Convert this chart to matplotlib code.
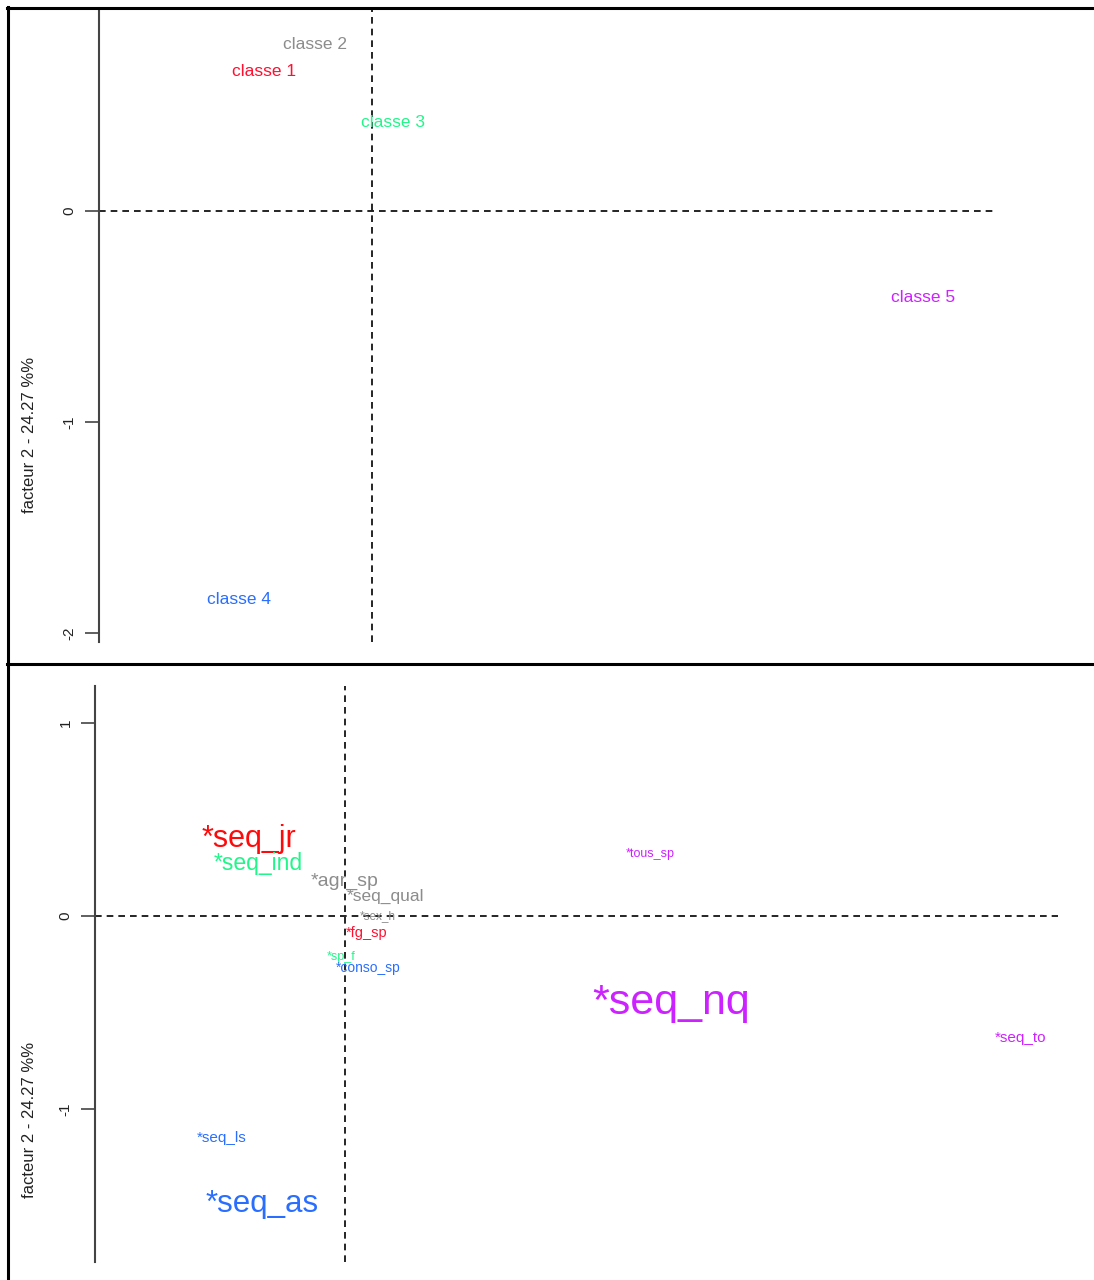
import matplotlib
matplotlib.use("Agg")
import matplotlib.pyplot as plt
from matplotlib.lines import Line2D

plt.rcParams['font.family'] = ['Liberation Sans', 'DejaVu Sans']

# ---- data: top panel (classes) ----
class_labels = ["classe 1", "classe 2", "classe 3", "classe 4", "classe 5"]
class_x = [-0.51, -0.27, 0.10, -0.63, 2.61]
class_y = [0.66, 0.79, 0.42, -1.84, -0.41]
class_colors = ["#FF1030", "#8C8C8C", "#22F58A", "#2A6EFF", "#CC22FF"]

# ---- data: bottom panel (modalities) ----
var_labels = ["*seq_jr", "*seq_ind", "*agr_sp", "*seq_qual", "*sex_h", "*fg_sp",
              "*sp_f", "*conso_sp", "*tous_sp", "*seq_nq", "*seq_to", "*seq_ls", "*seq_as"]
var_x = [-0.50, -0.45, 0.00, 0.21, 0.17, 0.11, -0.02, 0.12, 1.58, 1.69, 3.50, -0.64, -0.43]
var_y = [0.40, 0.27, 0.18, 0.10, 0.00, -0.09, -0.21, -0.27, 0.32, -0.45, -0.63, -1.15, -1.49]
var_colors = ["#FF0A0A", "#22F58A", "#8C8C8C", "#8C8C8C", "#8C8C8C", "#FF1030",
              "#22F58A", "#2A6EFF", "#CC22FF", "#CC22FF", "#CC22FF", "#2A6EFF", "#2A6EFF"]
var_sizes = [22, 16.5, 14, 12.5, 8.5, 10.5, 9, 10, 9, 31, 11, 11, 22.5]

y_title = "facteur 2 - 24.27 %%"

W, H = 1094, 1280
fig = plt.figure(figsize=(W / 100, H / 100), dpi=100)


def add_panel(left_px, right_px, top_px, bot_px, zero_x_px, zero_y_px, unit_px, yticks):
    ax = fig.add_axes([left_px / W, 1 - bot_px / H, (right_px - left_px) / W, (bot_px - top_px) / H])
    ax.set_xlim((left_px - zero_x_px) / unit_px, (right_px - zero_x_px) / unit_px)
    ax.set_ylim(-(bot_px - zero_y_px) / unit_px, (zero_y_px - top_px) / unit_px)
    for s in ["top", "right", "bottom"]:
        ax.spines[s].set_visible(False)
    ax.spines["left"].set_color("#444444")
    ax.spines["left"].set_linewidth(1.5)
    ax.set_xticks([])
    ax.set_yticks(yticks)
    ax.set_yticklabels([str(t) for t in yticks], rotation=90, va="center", fontsize=11, color="#222222")
    ax.tick_params(axis="y", length=10, width=1.2, color="#444444", pad=6)
    ax.axhline(0, color="black", ls=(0, (4, 3)), lw=1.2, clip_on=False)
    ax.axvline(0, color="black", ls=(0, (4, 3)), lw=1.2)
    ax.patch.set_alpha(0)
    return ax


# top panel
ax1 = add_panel(99, 995, 10, 642, 372, 211, 211, [0, -1, -2])
for lab, x, y, c in zip(class_labels, class_x, class_y, class_colors):
    ax1.text(x, y, lab, color=c, fontsize=12.5, ha="center", va="center")

# bottom panel
ax2 = add_panel(95, 1058, 686, 1262, 345, 916, 193, [1, 0, -1])
for lab, x, y, c, s in zip(var_labels, var_x, var_y, var_colors, var_sizes):
    ax2.text(x, y, lab, color=c, fontsize=s, ha="center", va="center")

# y titles
fig.text(30 / W, 1 - 435 / H, y_title, rotation=90, ha="center", va="center", fontsize=12, color="#222222")
fig.text(30 / W, 1 - 1120 / H, y_title, rotation=90, ha="center", va="center", fontsize=12, color="#222222")

# frame lines
def fl(x0, y0, x1, y1):
    fig.add_artist(Line2D([x0 / W, x1 / W], [1 - y0 / H, 1 - y1 / H], color="black", lw=2.2))

fl(7, 8, W, 8)
fl(8, 7, 8, H)
fl(7, 664, W, 664)

fig.savefig("out.png", dpi=100)
